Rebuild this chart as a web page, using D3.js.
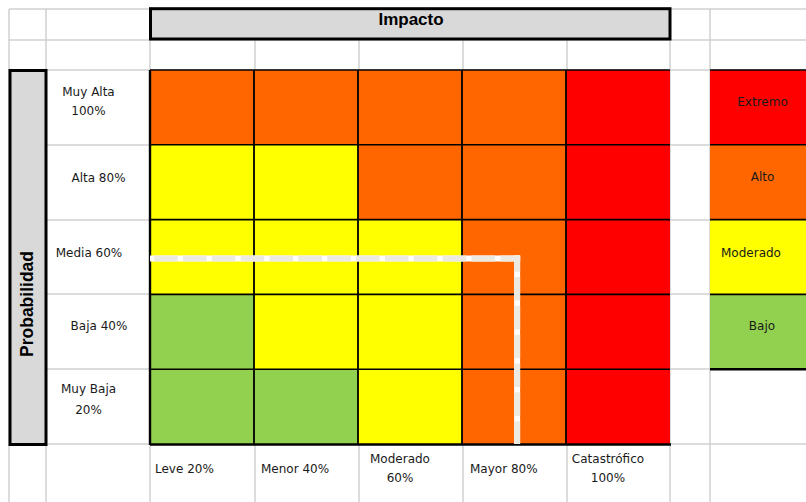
<!DOCTYPE html>
<html>
<head>
<meta charset="utf-8">
<script src="https://cdn.jsdelivr.net/npm/d3@7/dist/d3.min.js"></script>
<style>
  html, body { margin: 0; padding: 0; background: #fff; }
  svg { display: block; }
</style>
</head>
<body>
<script>
// ---------------- DATA ----------------
const impactTitle = "Impacto";
const probTitle = "Probabilidad";
const impactLabels = [["Leve 20%"], ["Menor 40%"], ["Moderado", "60%"], ["Mayor 80%"], ["Catastrófico", "100%"]];
const probLabels = [["Muy Alta", "100%"], ["Alta 80%"], ["Media 60%"], ["Baja 40%"], ["Muy Baja", "20%"]];
const levels = ["Extremo", "Alto", "Moderado", "Bajo"];
const levelColors = ["#FF0000", "#FF6600", "#FFFF00", "#92D050"];
// rows: probability from Muy Alta (top) to Muy Baja (bottom); columns: impact Leve..Catastrófico
const riskMatrix = [
  ["Alto", "Alto", "Alto", "Alto", "Extremo"],
  ["Moderado", "Moderado", "Alto", "Alto", "Extremo"],
  ["Moderado", "Moderado", "Moderado", "Alto", "Extremo"],
  ["Bajo", "Moderado", "Moderado", "Alto", "Extremo"],
  ["Bajo", "Bajo", "Moderado", "Alto", "Extremo"]
];
// tolerance boundary in (impact column index, probability row index) units
const toleranceLine = [[0, 2.52], [3.53, 2.52], [3.53, 5]];

// ---------------- LAYOUT ----------------
const W = 806, H = 502;
const sheetCols = [9, 46, 150, 255, 359, 463, 567, 670, 710];
const sheetRows = [9, 40, 70, 145, 220, 294, 369, 444];
const gridColor = "#D0D0D0";
const labelFont = "'DejaVu Sans', Verdana, sans-serif";
const titleFont = "'Liberation Sans', Arial, sans-serif";

const svg = d3.select("body").append("svg").attr("width", W).attr("height", H);
svg.append("rect").attr("width", W).attr("height", H).attr("fill", "#fff");

const colorOf = d3.scaleOrdinal().domain(levels).range(levelColors);
const xb = d3.scaleBand().domain(d3.range(impactLabels.length)).range([150, 670]);
const yb = d3.scaleBand().domain(d3.range(probLabels.length)).range([70, 444]);
const xl = d3.scaleLinear().domain([0, impactLabels.length]).range([150, 670]);
const yl = d3.scaleLinear().domain([0, probLabels.length]).range([70, 444]);

// spreadsheet gridlines
const grid = svg.append("g").attr("stroke", gridColor).attr("stroke-width", 1.5);
grid.selectAll("line.v").data(sheetCols).join("line")
  .attr("x1", d => d).attr("x2", d => d).attr("y1", 9).attr("y2", H);
grid.selectAll("line.h").data(sheetRows).join("line")
  .attr("y1", d => d).attr("y2", d => d).attr("x1", 9).attr("x2", W);

// header box
svg.append("rect").attr("x", 150.5).attr("y", 8.7).attr("width", 519.5).attr("height", 30.3)
  .attr("fill", "#D9D9D9").attr("stroke", "#000").attr("stroke-width", 3);
svg.append("text").attr("x", 411).attr("y", 25).attr("text-anchor", "middle")
  .attr("font-family", titleFont).attr("font-weight", "bold").attr("font-size", 17)
  .attr("fill", "#000").text(impactTitle);

// probability box
svg.append("rect").attr("x", 10).attr("y", 70.5).attr("width", 36).attr("height", 374)
  .attr("fill", "#D9D9D9").attr("stroke", "#000").attr("stroke-width", 3);
svg.append("text").attr("transform", "translate(33,304) rotate(-90)").attr("text-anchor", "middle")
  .attr("font-family", titleFont).attr("font-weight", "bold").attr("font-size", 17.5)
  .attr("fill", "#000").text(probTitle);

// matrix cells
const cells = [];
riskMatrix.forEach((row, r) => row.forEach((lv, c) => cells.push({ r, c, lv })));
svg.append("g").selectAll("rect").data(cells).join("rect")
  .attr("x", d => xb(d.c)).attr("y", d => yb(d.r))
  .attr("width", xb.bandwidth()).attr("height", yb.bandwidth())
  .attr("fill", d => colorOf(d.lv));

// matrix black lines
const blk = svg.append("g").attr("stroke", "#000");
blk.selectAll("line.iv").data(d3.range(1, impactLabels.length)).join("line")
  .attr("x1", d => xl(d)).attr("x2", d => xl(d)).attr("y1", yl(0)).attr("y2", yl(5))
  .attr("stroke-width", 1.8);
blk.selectAll("line.ih").data(d3.range(0, probLabels.length)).join("line")
  .attr("y1", d => yl(d)).attr("y2", d => yl(d)).attr("x1", xl(0)).attr("x2", xl(5))
  .attr("stroke-width", 1.6);
blk.append("line").attr("x1", xl(0)).attr("x2", xl(0)).attr("y1", yl(0)).attr("y2", yl(5) + 1)
  .attr("stroke-width", 2.4);
blk.append("line").attr("x1", xl(0)).attr("x2", xl(5) + 1).attr("y1", yl(5) + 0.5).attr("y2", yl(5) + 0.5)
  .attr("stroke-width", 2.6);

// tolerance line (white base + beige dashes), one segment per pair
const segOffsets = [24.75, 10.4];
const segs = d3.pairs(toleranceLine);
segs.forEach((s, i) => {
  const [a, b] = s;
  const vertical = a[0] === b[0];
  const x1 = xl(a[0]), y1 = yl(a[1]) + (vertical ? -3 : 0);
  const x2 = xl(b[0]) + (vertical ? 0 : 3), y2 = yl(b[1]);
  svg.append("line").attr("x1", x1).attr("y1", y1).attr("x2", x2).attr("y2", y2)
    .attr("stroke", "#fff").attr("stroke-width", 6);
  svg.append("line").attr("x1", x1).attr("y1", y1).attr("x2", x2).attr("y2", y2)
    .attr("stroke", "#EDEAE2").attr("stroke-width", 6)
    .attr("stroke-dasharray", "23.6 5.25").attr("stroke-dashoffset", vertical ? segOffsets[1] - 3 : segOffsets[0]);
});

// legend
const lg = svg.append("g");
lg.selectAll("rect").data(levels).join("rect")
  .attr("x", 710).attr("y", (d, i) => yb(i)).attr("width", W - 710).attr("height", yb.bandwidth())
  .attr("fill", d => colorOf(d));
lg.selectAll("line").data(d3.range(0, levels.length)).join("line")
  .attr("x1", 710).attr("x2", W).attr("y1", d => yl(d)).attr("y2", d => yl(d))
  .attr("stroke", "#000").attr("stroke-width", 1.6);
lg.append("line").attr("x1", 710).attr("x2", W).attr("y1", yl(levels.length)).attr("y2", yl(levels.length))
  .attr("stroke", "#000").attr("stroke-width", 2.4);
const legendX = [762.5, 762.6, 751, 762];
const legendBase = [106, 181, 257, 329.5];
lg.selectAll("text").data(levels).join("text")
  .attr("x", (d, i) => legendX[i]).attr("y", (d, i) => legendBase[i])
  .attr("text-anchor", "middle").attr("font-family", labelFont).attr("font-size", 12)
  .attr("fill", "#1a1a1a").text(d => d);

// probability labels
const probX = [88.5, 98.5, 89, 99, 88.5];
const probBase = [[95.5, 115], [181.5], [257], [329.5], [392.5, 413.5]];
const pg = svg.append("g").attr("font-family", labelFont).attr("font-size", 12).attr("fill", "#1a1a1a")
  .attr("text-anchor", "middle");
probLabels.forEach((lines, i) => {
  lines.forEach((t, j) => {
    pg.append("text").attr("x", probX[i]).attr("y", probBase[i][j]).text(t);
  });
});

// impact labels
const ig = svg.append("g").attr("font-family", labelFont).attr("font-size", 12).attr("fill", "#1a1a1a");
const impactX = [155, 261, 400, 470, 608];
impactLabels.forEach((lines, i) => {
  const multi = lines.length > 1;
  lines.forEach((t, j) => {
    ig.append("text")
      .attr("x", impactX[i])
      .attr("y", multi ? 463 + j * 19 : 473)
      .attr("text-anchor", multi ? "middle" : "start")
      .text(t);
  });
});
</script>
</body>
</html>
